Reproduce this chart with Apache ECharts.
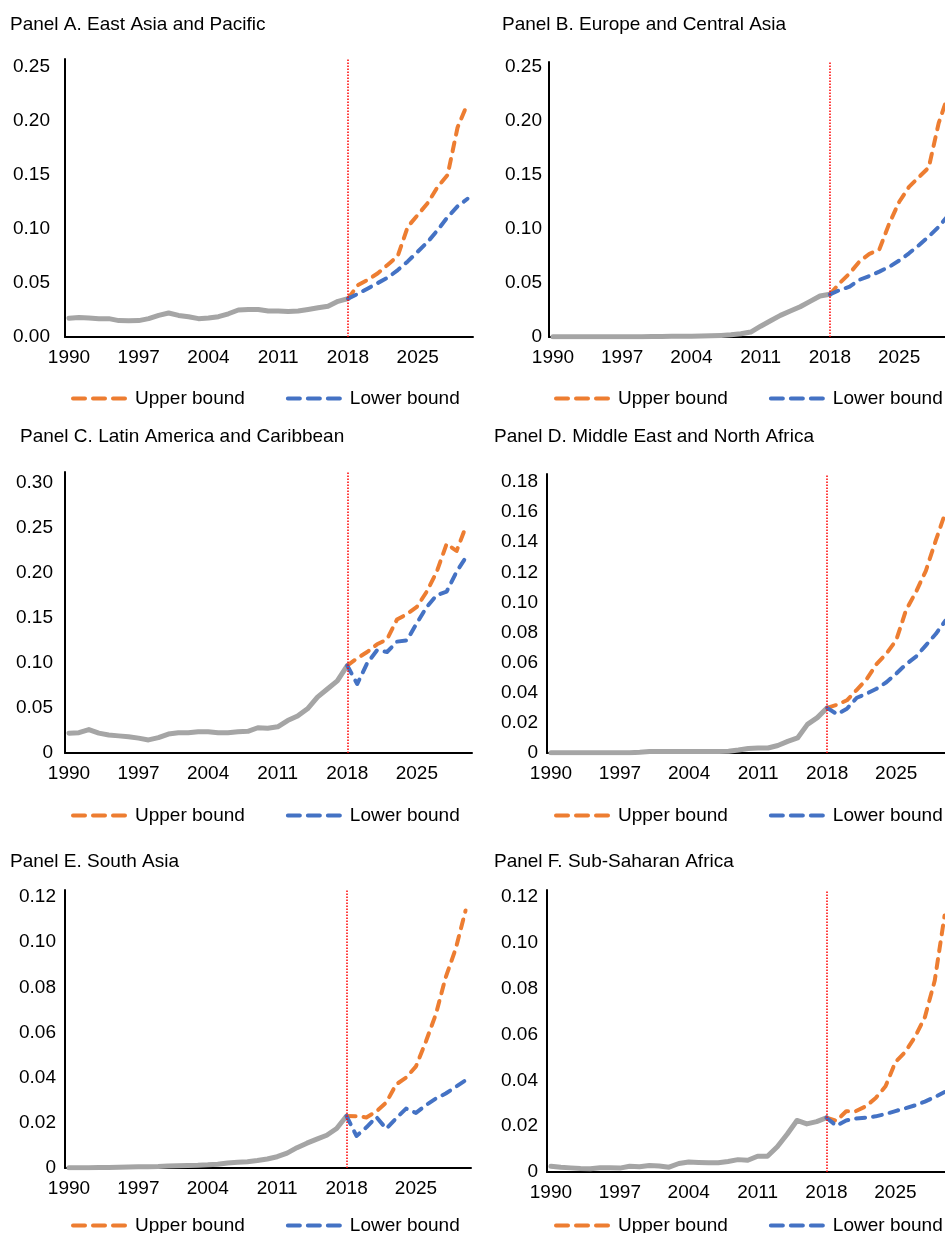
<!DOCTYPE html>
<html>
<head>
<meta charset="utf-8">
<script src="https://cdn.jsdelivr.net/npm/echarts@6/dist/echarts.min.js"></script>
<style>
html,body{margin:0;padding:0;background:#fff;overflow:hidden;}
#chart{width:960px;height:1233px;}
</style>
</head>
<body>
<div id="chart"></div>
<script>
// ---------- data ----------
const histYears = [1990,1991,1992,1993,1994,1995,1996,1997,1998,1999,2000,2001,2002,2003,2004,2005,2006,2007,2008,2009,2010,2011,2012,2013,2014,2015,2016,2017,2018];
const foreYears = [2018,2019,2020,2021,2022,2023,2024,2025,2026,2027,2028,2029,2030];
const xTickYears = [1990,1997,2004,2011,2018,2025];
const cutoffYear = 2018;

const panelTitles = [
  'Panel A. East Asia and Pacific',
  'Panel B. Europe and Central Asia',
  'Panel C. Latin America and Caribbean',
  'Panel D. Middle East and North Africa',
  'Panel E. South Asia',
  'Panel F. Sub-Saharan Africa'
];

const yTicksA = [0, 0.05, 0.10, 0.15, 0.20, 0.25];
const yTicksB = [0, 0.05, 0.10, 0.15, 0.20, 0.25];
const yTicksC = [0, 0.05, 0.10, 0.15, 0.20, 0.25, 0.30];
const yTicksD = [0, 0.02, 0.04, 0.06, 0.08, 0.10, 0.12, 0.14, 0.16, 0.18];
const yTicksE = [0, 0.02, 0.04, 0.06, 0.08, 0.10, 0.12];
const yTicksF = [0, 0.02, 0.04, 0.06, 0.08, 0.10, 0.12];

const histA = [0.0173,0.018,0.0175,0.017,0.017,0.0152,0.015,0.0152,0.017,0.02,0.0222,0.020,0.0188,0.017,0.0175,0.0188,0.0215,0.025,0.0255,0.0255,0.024,0.024,0.0235,0.024,0.0255,0.027,0.0285,0.033,0.0355];
const upA   = [0.0355,0.048,0.053,0.059,0.067,0.075,0.102,0.113,0.124,0.139,0.150,0.194,0.216];
const loA   = [0.0355,0.040,0.045,0.050,0.055,0.062,0.070,0.079,0.088,0.099,0.111,0.121,0.128];

const histB = [0.0002,0.0002,0.0002,0.0002,0.0002,0.0002,0.0002,0.0002,0.0002,0.0003,0.0004,0.0005,0.0006,0.0007,0.0008,0.001,0.0012,0.0015,0.002,0.003,0.0046,0.010,0.015,0.020,0.024,0.028,0.033,0.038,0.0395];
const upB   = [0.0395,0.050,0.059,0.070,0.077,0.081,0.105,0.125,0.139,0.148,0.157,0.198,0.225];
const loB   = [0.0395,0.0435,0.0466,0.053,0.0565,0.0605,0.065,0.0707,0.0775,0.085,0.093,0.102,0.113];

const histC = [0.022,0.0225,0.026,0.022,0.020,0.019,0.018,0.0165,0.0145,0.017,0.021,0.0225,0.0225,0.0235,0.0235,0.0225,0.0225,0.0235,0.024,0.028,0.0275,0.029,0.036,0.041,0.049,0.062,0.071,0.080,0.097];
const upC   = [0.097,0.105,0.112,0.1205,0.126,0.148,0.154,0.162,0.179,0.201,0.232,0.224,0.253];
const loC   = [0.097,0.0765,0.0995,0.114,0.112,0.1235,0.125,0.144,0.162,0.175,0.179,0.201,0.218];

const histD = [0.0002,0.0002,0.0002,0.0002,0.0002,0.0002,0.0002,0.0002,0.0002,0.0005,0.001,0.001,0.001,0.001,0.001,0.001,0.001,0.001,0.0012,0.002,0.003,0.0033,0.0033,0.005,0.0077,0.010,0.019,0.0235,0.030];
const upD   = [0.030,0.032,0.035,0.042,0.049,0.059,0.066,0.075,0.095,0.107,0.121,0.141,0.160];
const loD   = [0.030,0.0257,0.0294,0.0367,0.0394,0.0427,0.047,0.0527,0.059,0.064,0.0715,0.079,0.088];

const histE = [0.0001,0.0001,0.0001,0.0002,0.0002,0.0003,0.0004,0.0005,0.0006,0.0007,0.0009,0.001,0.0011,0.0012,0.0014,0.0017,0.0022,0.0025,0.0028,0.0033,0.004,0.005,0.0066,0.009,0.011,0.0128,0.0145,0.0175,0.023];
const upE   = [0.023,0.0229,0.0224,0.025,0.029,0.037,0.040,0.045,0.056,0.068,0.0845,0.097,0.114];
const loE   = [0.023,0.0142,0.018,0.0226,0.0174,0.022,0.0263,0.0244,0.0278,0.0307,0.033,0.0359,0.0388];

const histF = [0.0025,0.0021,0.0018,0.0015,0.0014,0.0019,0.0019,0.0017,0.0025,0.0023,0.0028,0.0026,0.0021,0.0037,0.0044,0.0042,0.004,0.004,0.0046,0.0054,0.0051,0.0069,0.0069,0.011,0.0165,0.0225,0.021,0.022,0.0237];
const upF   = [0.0237,0.0223,0.0265,0.0266,0.0287,0.0323,0.0374,0.048,0.0524,0.059,0.0676,0.0836,0.112];
const loF   = [0.0237,0.0202,0.0225,0.0233,0.0237,0.0243,0.0253,0.0266,0.0278,0.0291,0.0307,0.0327,0.0349];

// ---------- layout ----------
const FONT = 'Liberation Sans, Arial, Helvetica, sans-serif';
const panels = [
  {hist: histA, up: upA, lo: loA, ticks: yTicksA, zeroFmt: '0.00', yMax: 0.2574, grid: {left: 65, top: 59, width: 408, height: 278}, titleX: 10, titleY: 15, legX: 71, legY: 389, labMargin: 15},
  {hist: histB, up: upB, lo: loB, ticks: yTicksB, zeroFmt: '0', yMax: 0.2546, grid: {left: 549, top: 62, width: 405, height: 275}, titleX: 502, titleY: 15, legX: 554, legY: 389, labMargin: 7},
  {hist: histC, up: upC, lo: loC, ticks: yTicksC, zeroFmt: '0', yMax: 0.3116, grid: {left: 65, top: 472, width: 407, height: 281}, titleX: 20, titleY: 427, legX: 71, legY: 806, labMargin: 12},
  {hist: histD, up: upD, lo: loD, ticks: yTicksD, zeroFmt: '0', yMax: 0.1853, grid: {left: 547, top: 474, width: 404, height: 279}, titleX: 494, titleY: 427, legX: 554, legY: 806, labMargin: 9},
  {hist: histE, up: upE, lo: loE, ticks: yTicksE, zeroFmt: '0', yMax: 0.1231, grid: {left: 65, top: 890, width: 406, height: 278}, titleX: 10, titleY: 852, legX: 71, legY: 1216, labMargin: 9},
  {hist: histF, up: upF, lo: loF, ticks: yTicksF, zeroFmt: '0', yMax: 0.1231, grid: {left: 547, top: 890, width: 403, height: 282}, titleX: 494, titleY: 852, legX: 554, legY: 1216, labMargin: 9}
];

const pairs = (xs, ys) => xs.map((x, i) => [x, ys[i]]);

const option = {
  animation: false,
  backgroundColor: '#fff',
  textStyle: {fontFamily: FONT, color: '#000'},
  title: [], grid: [], xAxis: [], yAxis: [], legend: [], series: []
};

panels.forEach((p, i) => {
  option.title.push({
    text: panelTitles[i], left: p.titleX, top: p.titleY, padding: 0,
    textStyle: {fontFamily: FONT, fontSize: 19, fontWeight: 'normal', color: '#000'}
  });
  option.grid.push(Object.assign({containLabel: false}, p.grid));
  option.xAxis.push({
    type: 'value', gridIndex: i, min: 1989.6, max: 2030.55,
    axisLine: {show: true, onZero: true, lineStyle: {color: '#000', width: 2}},
    axisTick: {show: false}, splitLine: {show: false},
    axisLabel: {
      customValues: xTickYears, margin: 11, fontSize: 19, color: '#000', fontFamily: FONT,
      formatter: v => String(v)
    }
  });
  option.yAxis.push({
    type: 'value', gridIndex: i, min: 0, max: p.yMax,
    axisLine: {show: true, lineStyle: {color: '#000', width: 2}},
    axisTick: {show: false}, splitLine: {show: false},
    axisLabel: {
      customValues: p.ticks, margin: p.labMargin, fontSize: 19, color: '#000', fontFamily: FONT,
      formatter: v => (v === 0 ? p.zeroFmt : v.toFixed(2))
    }
  });
  option.legend.push({
    left: p.legX, top: p.legY, orient: 'horizontal', padding: 0,
    itemWidth: 52, itemHeight: 14, itemGap: 41,
    data: ['Upper bound', 'Lower bound'],
    textStyle: {fontSize: 19, color: '#000', fontFamily: FONT, padding: [0, 0, 0, 5]},
    lineStyle: {width: 4, type: [12, 8], cap: 'round'},
    itemStyle: {opacity: 0},
    selectedMode: false
  });
  option.series.push({
    name: 'Historical', type: 'line', xAxisIndex: i, yAxisIndex: i,
    data: pairs(histYears, p.hist), symbol: 'none', z: 2,
    lineStyle: {color: '#A5A5A5', width: 5, cap: 'round', join: 'round'},
    itemStyle: {color: '#A5A5A5'},
    markLine: {
      silent: true, symbol: ['none', 'none'], label: {show: false},
      lineStyle: {color: '#FF0000', type: 'dotted', width: 1.5},
      emphasis: {disabled: true},
      data: [{xAxis: cutoffYear}]
    }
  });
  option.series.push({
    name: 'Upper bound', type: 'line', xAxisIndex: i, yAxisIndex: i,
    data: pairs(foreYears, p.up), symbol: 'none', z: 3,
    lineStyle: {color: '#ED7D31', width: 4, type: [9, 8], cap: 'round', join: 'round'},
    itemStyle: {color: '#ED7D31'}
  });
  option.series.push({
    name: 'Lower bound', type: 'line', xAxisIndex: i, yAxisIndex: i,
    data: pairs(foreYears, p.lo), symbol: 'none', z: 4,
    lineStyle: {color: '#4472C4', width: 4, type: [9, 8], cap: 'round', join: 'round'},
    itemStyle: {color: '#4472C4'}
  });
});

const chart = echarts.init(document.getElementById('chart'), null, {renderer: 'canvas'});
chart.setOption(option);
</script>
</body>
</html>
